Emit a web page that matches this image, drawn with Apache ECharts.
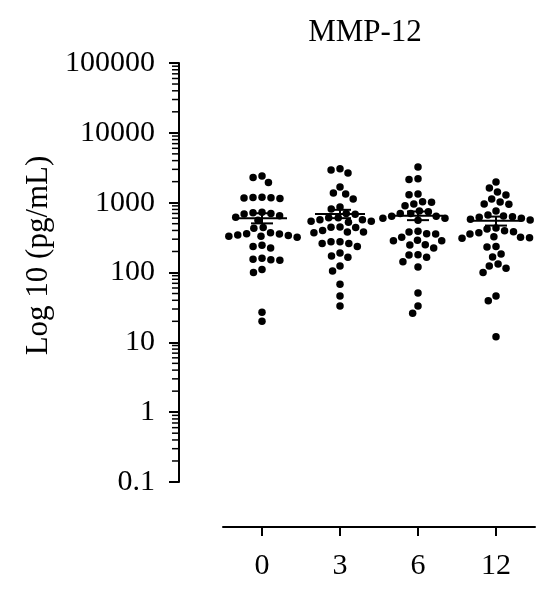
<!DOCTYPE html>
<html>
<head>
<meta charset="utf-8">
<script src="https://cdn.jsdelivr.net/npm/echarts@6/dist/echarts.min.js"></script>
<style>html,body{margin:0;padding:0;background:#fff}#c{width:558px;height:599px}</style>
</head>
<body>
<div id="c"></div>
<script>
var categories = ['0', '3', '6', '12'];
var yTickLabels = ['0.1', '1', '10', '100', '1000', '10000', '100000'];

var month0 = [2300, 1950, 2400, 1200, 1180, 1150, 1170, 1190, 620, 720, 690, 730, 700, 650, 560,
  440, 430, 370, 355, 340, 330, 320, 330, 345, 360, 235, 225, 245, 155, 150, 152, 160, 110, 100, 27, 20];
var month3 = [2940, 2660, 3050, 1675, 1330, 1370, 1130, 811, 867, 700, 680, 610, 570, 540, 525, 540, 570, 610,
  450, 440, 380, 370, 380, 400, 445, 260, 275, 235, 260, 275, 190, 165, 172, 124, 105, 68, 46, 33];
var month6 = [3245, 2150, 2200, 1300, 1330, 900, 1030, 1010, 960, 700, 640, 600, 560, 600, 640, 700, 740, 760,
  390, 360, 355, 380, 290, 285, 250, 248, 285, 320, 225, 180, 165, 178, 143, 120, 51, 33, 26];
var month12 = [1980, 1420, 1620, 1020, 950, 1130, 1290, 960, 760, 665, 600, 565, 580, 620, 630, 645,
  435, 420, 397, 372, 326, 315, 309, 319, 356, 384, 232, 235, 184, 167, 124, 100, 115, 132, 46, 39.5, 12];
var groups = [month0, month3, month6, month12];

var means = [600, 690, 650, 550];
var semLow = [505, 600, 562, 470];
var semHigh = [705, 790, 748, 632];

var Y_OFFSET = 44, X_OFFSET = 45;
var DOT = 7.5, DOT_GAP = 9;
var SERIF = '"Liberation Serif", "Times New Roman", serif';

var points = [];
groups.forEach(function (arr, g) {
  arr.forEach(function (v, i) { points.push([g, v, i]); });
});
var stats = means.map(function (m, g) { return [g, m, semLow[g], semHigh[g]]; });
var minorVals = [];
for (var k = 0; k < yTickLabels.length - 1; k++) {
  var base = parseFloat(yTickLabels[k]);
  for (var m = 2; m <= 9; m++) minorVals.push([0, +(base * m).toPrecision(3)]);
}

function swarm(ys, D) {
  var order = ys.map(function (y, i) { return i; }).sort(function (a, b) { return ys[a] - ys[b]; });
  var placed = [], off = new Array(ys.length);
  order.forEach(function (i) {
    var y = ys[i];
    var near = placed.filter(function (p) { return Math.abs(p.y - y) < D; });
    var cands = [0];
    near.forEach(function (p) {
      var dx = Math.sqrt(D * D - (p.y - y) * (p.y - y));
      cands.push(p.x - dx, p.x + dx);
    });
    cands.sort(function (a, b) { return Math.abs(a) - Math.abs(b); });
    var chosen = 0;
    for (var c = 0; c < cands.length; c++) {
      var cx = cands[c];
      if (near.every(function (p) { return (p.x - cx) * (p.x - cx) + (p.y - y) * (p.y - y) >= D * D - 0.01; })) { chosen = cx; break; }
    }
    placed.push({ x: chosen, y: y });
    off[i] = chosen;
  });
  return off;
}

var swarmCache = {};
function getOffsets(api, g) {
  if (!swarmCache[g]) {
    var ys = groups[g].map(function (v) { return api.coord([g, v])[1]; });
    swarmCache[g] = swarm(ys, DOT_GAP);
  }
  return swarmCache[g];
}

var chart = echarts.init(document.getElementById('c'));
chart.setOption({
  animation: false,
  backgroundColor: '#fff',
  title: {
    text: 'MMP-12', left: 360, top: 12, textAlign: 'center',
    textStyle: { fontFamily: SERIF, fontSize: 31, fontWeight: 'normal', color: '#000' }
  },
  grid: { left: 223, right: 23, top: 63, bottom: 117 },
  xAxis: {
    type: 'category', data: categories, offset: X_OFFSET, boundaryGap: true,
    axisLine: { show: true, lineStyle: { color: '#000', width: 2 } },
    axisTick: { show: true, interval: 0, alignWithLabel: true, length: 9, lineStyle: { color: '#000', width: 2 } },
    axisLabel: { margin: 24, color: '#000', fontFamily: SERIF, fontSize: 30 },
    splitLine: { show: false }
  },
  yAxis: {
    type: 'log', logBase: 10, min: 0.1, max: 100000, offset: Y_OFFSET,
    name: 'Log 10 (pg/mL)', nameLocation: 'middle', nameGap: 117,
    nameTextStyle: { fontFamily: SERIF, fontSize: 31, color: '#000', padding: [0, 0, 0, 34] },
    axisLine: { show: true, lineStyle: { color: '#000', width: 2 } },
    axisTick: { show: true, length: 10, lineStyle: { color: '#000', width: 2 } },
    axisLabel: {
      margin: 24, color: '#000', fontFamily: SERIF, fontSize: 30,
      formatter: function (v) { return yTickLabels[Math.round(Math.log10(v)) + 1]; }
    },
    splitLine: { show: false }
  },
  series: [
    {
      type: 'custom', data: minorVals, clip: false, silent: true,
      renderItem: function (params, api) {
        var p = api.coord([0, api.value(1)]);
        var band = api.size([1, 0])[0];
        var ax = p[0] - band / 2 - Y_OFFSET;
        return { type: 'line', shape: { x1: ax - 7, y1: p[1], x2: ax, y2: p[1] }, style: { stroke: '#000', lineWidth: 1.5 } };
      }
    },
    {
      type: 'custom', data: points, clip: false,
      renderItem: function (params, api) {
        var g = api.value(0), v = api.value(1), i = api.value(2);
        var p = api.coord([g, v]);
        var off = getOffsets(api, g)[i];
        return { type: 'circle', shape: { cx: p[0] + off, cy: p[1], r: DOT / 2 }, style: { fill: '#000' } };
      }
    },
    {
      type: 'custom', data: stats, clip: false, z: 5,
      renderItem: function (params, api) {
        var g = api.value(0);
        var pm = api.coord([g, api.value(1)]);
        var pl = api.coord([g, api.value(2)]);
        var ph = api.coord([g, api.value(3)]);
        var st = { stroke: '#000', lineWidth: 2 };
        return {
          type: 'group', children: [
            { type: 'line', shape: { x1: pm[0] - 25, y1: pm[1], x2: pm[0] + 25, y2: pm[1] }, style: st },
            { type: 'line', shape: { x1: pm[0], y1: pl[1], x2: pm[0], y2: ph[1] }, style: st },
            { type: 'line', shape: { x1: pm[0] - 11, y1: pl[1], x2: pm[0] + 11, y2: pl[1] }, style: st },
            { type: 'line', shape: { x1: pm[0] - 11, y1: ph[1], x2: pm[0] + 11, y2: ph[1] }, style: st }
          ]
        };
      }
    }
  ]
});
</script>
</body>
</html>
